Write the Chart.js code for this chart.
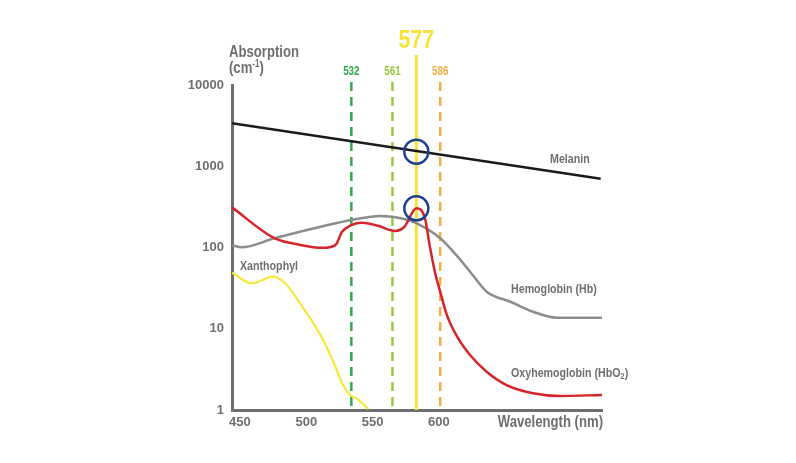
<!DOCTYPE html>
<html><head><meta charset="utf-8">
<script src="https://cdn.jsdelivr.net/npm/chart.js@4"></script>
<style>html,body{margin:0;padding:0;background:#fff}#wrap{width:796px;height:463px}</style>
</head><body><div id="wrap"><canvas id="c" width="796" height="463"></canvas></div>
<script>
// ---- data ----
const yTicks = [1, 10, 100, 1000, 10000];
const xTicks = [450, 500, 550, 600];
const melaninX = [444, 722];
const melaninY = [3380, 700];
const hbX = [444, 451, 476, 514, 534, 556, 574, 583, 601, 613, 623.5, 636, 654, 671, 689, 723];
const hbY = [107, 100.5, 130, 185, 218, 244, 224, 199, 130, 81, 50.4, 28.6, 21.5, 16.2, 13.7, 13.7];
const hbo2X = [444, 476, 494, 512, 522, 527, 534, 542, 554, 567, 574, 583, 589.5, 593, 597, 601, 606, 613, 623.5, 636, 651, 671, 691, 723];
const hbo2Y = [312, 130, 109, 99, 107, 156, 189, 202, 185, 160, 180, 304, 229, 107, 50, 28.6, 14.8, 8.4, 4.75, 2.96, 2.03, 1.61, 1.49, 1.53];
const xanX = [444, 459, 475, 484, 497, 507, 514, 522, 527, 533, 538, 547];
const xanY = [49, 36.3, 43.7, 36.3, 18.7, 10.6, 6.62, 3.41, 2.13, 1.53, 1.39, 1.02];
const laserX = [534, 565, 583, 601];
const laserLabels = ['532', '561', '577', '586'];
const laserTop = [10900, 10900, 23400, 10900];
const circleX = [583, 583];
const circleY = [1510, 304];

const F = '"Liberation Sans","Arimo",Arial,sans-serif';
const GREY = '#6d6e71';
const SX = 0.82; // condensed look
const laserColors = ['#2eaa4b', '#9cc63d', '#fbe13c', '#f4ae45'];
const pts = (xs, ys) => xs.map((x, i) => ({x, y: ys[i]}));

const datasets = [];
laserX.forEach((x, i) => {
  datasets.push({
    data: [{x, y: laserTop[i]}, {x, y: 1}],
    showLine: true, borderColor: laserColors[i], borderWidth: i === 2 ? 3 : 2.5,
    borderDash: i === 2 ? [] : [9, 6], pointRadius: 0, clip: false, order: 5
  });
});
datasets.push({data: pts(melaninX, melaninY), showLine: true, borderColor: '#1a1a1a', borderWidth: 2.5, pointRadius: 0, order: 2});
datasets.push({data: pts(hbX, hbY), showLine: true, borderColor: '#8c8c8c', borderWidth: 2.5, pointRadius: 0, cubicInterpolationMode: 'monotone', order: 3});
datasets.push({data: pts(hbo2X, hbo2Y), showLine: true, borderColor: '#d7242b', borderWidth: 2.5, pointRadius: 0, cubicInterpolationMode: 'monotone', order: 2});
datasets.push({data: pts(xanX, xanY), showLine: true, borderColor: '#f7e83a', borderWidth: 2.2, pointRadius: 0, cubicInterpolationMode: 'monotone', order: 3});
datasets.push({data: pts(circleX, circleY), showLine: false, pointRadius: 12, pointBorderWidth: 2.5, pointBorderColor: '#1d3f8e', pointBackgroundColor: 'rgba(0,0,0,0)', order: 0, clip: false});

// draws condensed bold text; returns drawn width
function txt(ctx, s, x, y, size, color, align) {
  ctx.save();
  ctx.font = 'bold ' + size + 'px ' + F;
  ctx.fillStyle = color; ctx.textBaseline = 'middle'; ctx.textAlign = 'left';
  const w = ctx.measureText(s).width * SX;
  let x0 = x;
  if (align === 'center') x0 = x - w / 2;
  else if (align === 'right') x0 = x - w;
  ctx.translate(x0, y); ctx.scale(SX, 1);
  ctx.fillText(s, 0, 0);
  ctx.restore();
  return w;
}

const labelsPlugin = {
  id: 'labels',
  afterDraw(chart) {
    const ctx = chart.ctx, xs = chart.scales.x;
    laserX.forEach((x, i) => {
      const px = xs.getPixelForValue(x);
      if (i === 2) txt(ctx, laserLabels[i], px, 41, 26, laserColors[i], 'center');
      else txt(ctx, laserLabels[i], px, 72, 12, laserColors[i], 'center');
    });
    txt(ctx, 'Absorption', 229, 53, 16, GREY);
    let w = txt(ctx, '(cm', 229, 69, 16, GREY);
    let w2 = txt(ctx, '-1', 229 + w, 64, 10, GREY);
    txt(ctx, ')', 229 + w + w2, 69, 16, GREY);
    txt(ctx, 'Wavelength (nm)', xs.right + 1, 423, 16, GREY, 'right');
    txt(ctx, 'Melanin', 550, 159, 13, GREY);
    txt(ctx, 'Xanthophyl', 240, 266, 13, GREY);
    txt(ctx, 'Hemoglobin (Hb)', 511, 289, 13, GREY);
    w = txt(ctx, 'Oxyhemoglobin (HbO', 511, 373, 13, GREY);
    w2 = txt(ctx, '2', 511 + w, 377, 9, GREY);
    txt(ctx, ')', 511 + w + w2, 373, 13, GREY);
  }
};

new Chart(document.getElementById('c'), {
  type: 'scatter',
  data: {datasets},
  plugins: [labelsPlugin],
  options: {
    responsive: false, animation: false, devicePixelRatio: 1, events: [],
    layout: {padding: {left: 172, right: 194, top: 85, bottom: 18}},
    plugins: {legend: {display: false}, tooltip: {enabled: false}},
    scales: {
      x: {
        type: 'linear', min: 444, max: 723,
        afterBuildTicks: s => { s.ticks = xTicks.map(v => ({value: v})); },
        afterFit: s => { s.height = 35; },
        grid: {display: false, drawTicks: false},
        border: {display: true, color: GREY, width: 3},
        ticks: {padding: 5, color: GREY, font: {family: F, size: 13, weight: 'bold'}, callback: v => String(v)}
      },
      y: {
        type: 'logarithmic', min: 1, max: 10000,
        afterBuildTicks: s => { s.ticks = yTicks.map(v => ({value: v})); },
        afterFit: s => { s.width = 60; },
        grid: {display: false, drawTicks: false},
        border: {display: true, color: GREY, width: 3},
        ticks: {padding: 8, color: GREY, font: {family: F, size: 13, weight: 'bold'}, callback: v => String(v)}
      }
    }
  }
});
</script></body></html>
